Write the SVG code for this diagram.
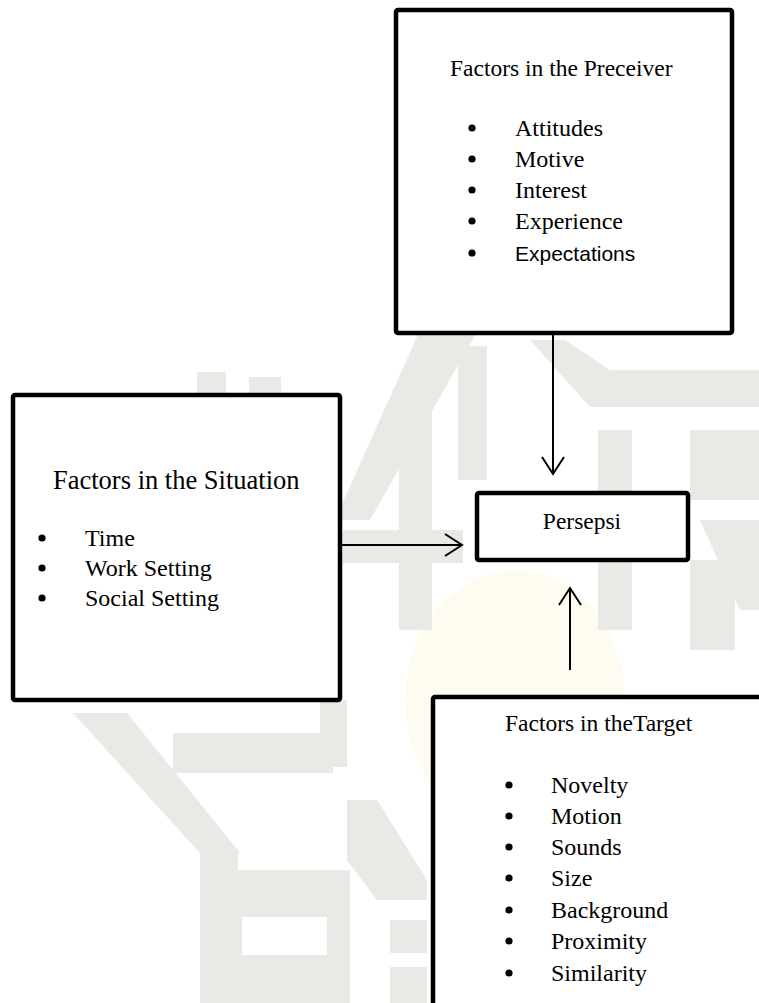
<svg xmlns="http://www.w3.org/2000/svg" width="759" height="1003" viewBox="0 0 759 1003">
<style>
.box{fill:#fff;stroke:#000;stroke-width:4.5;stroke-linejoin:round}
.t{font-family:"Liberation Serif","Times New Roman",serif;fill:#000}
.s{font-family:"Liberation Sans",Arial,sans-serif;fill:#000}
.ln{stroke:#000;stroke-width:2;fill:none}
.wm{fill:#e8eae6}
.wy{fill:#fefcf1}
</style>
<rect width="759" height="1003" fill="#fff"/>
<g id="watermark">
  <ellipse class="wy" cx="515" cy="700" rx="110" ry="130"/>
  <polygon class="wm" points="420,330 478,330 370,520 335,520"/>
  <rect class="wm" x="399" y="408" width="33" height="222"/>
  <rect class="wm" x="458" y="346" width="29" height="134"/>
  <polygon class="wm" points="343,530 463,530 463,563 343,563"/>
  <rect class="wm" x="197" y="372" width="29" height="25"/>
  <rect class="wm" x="249" y="377" width="32" height="20"/>
  <polygon class="wm" points="530,340 565,340 610,370 759,370 759,407 590,407"/>
  <rect class="wm" x="598" y="430" width="34" height="200"/>
  <rect class="wm" x="690" y="430" width="69" height="70"/>
  <polygon class="wm" points="700,520 759,520 759,610 740,610"/>
  <rect class="wm" x="690" y="560" width="45" height="90"/>
  <polygon class="wm" points="73,713 127,713 240,853 200,853"/>
  <rect class="wm" x="200" y="853" width="38" height="150"/>
  <rect class="wm" x="173" y="733" width="160" height="40"/>
  <rect class="wm" x="320" y="700" width="27" height="67"/>
  <path class="wm" fill-rule="evenodd" d="M238,870 H350 V1003 H238 Z M242,917 H327 V955 H242 Z"/>
  <polygon class="wm" points="347,800 377,800 427,880 427,900 377,900 347,860"/>
  <rect class="wm" x="390" y="920" width="37" height="33"/>
  <rect class="wm" x="390" y="967" width="37" height="36"/>
</g>
<g id="connectors">
  <line class="ln" x1="553" y1="335" x2="553" y2="474"/>
  <polyline class="ln" points="542,457 553,474 564,457"/>
  <line class="ln" x1="342" y1="545" x2="462" y2="545"/>
  <polyline class="ln" points="445,534 462,545 445,556"/>
  <line class="ln" x1="570" y1="670" x2="570" y2="588"/>
  <polyline class="ln" points="559,605 570,588 581,605"/>
</g>
<g id="preceiver">
  <rect class="box" x="396" y="10" width="336" height="323" rx="2"/>
  <text class="t" x="450" y="76" font-size="23.5">Factors in the Preceiver</text>
  <circle cx="472" cy="128" r="3.6"/>
  <circle cx="472" cy="159" r="3.6"/>
  <circle cx="472" cy="190" r="3.6"/>
  <circle cx="472" cy="221" r="3.6"/>
  <circle cx="472" cy="253" r="3.6"/>
  <text class="t" x="515" y="136" font-size="24">Attitudes</text>
  <text class="t" x="515" y="167" font-size="24">Motive</text>
  <text class="t" x="515" y="198" font-size="24">Interest</text>
  <text class="t" x="515" y="229" font-size="24">Experience</text>
  <text class="s" x="515" y="261" font-size="21">Expectations</text>
</g>
<g id="situation">
  <rect class="box" x="13" y="395" width="327" height="305" rx="2"/>
  <text class="t" x="53" y="489" font-size="26.5">Factors in the Situation</text>
  <circle cx="42" cy="538" r="3.6"/>
  <circle cx="42" cy="568" r="3.6"/>
  <circle cx="42" cy="598" r="3.6"/>
  <text class="t" x="85" y="546" font-size="24">Time</text>
  <text class="t" x="85" y="576" font-size="24">Work Setting</text>
  <text class="t" x="85" y="606" font-size="24">Social Setting</text>
</g>
<g id="persepsi">
  <rect class="box" x="477" y="493" width="211" height="67" rx="2"/>
  <text class="t" x="582" y="529" font-size="23.5" text-anchor="middle">Persepsi</text>
</g>
<g id="target">
  <rect class="box" x="433" y="697" width="400" height="400" rx="2"/>
  <text class="t" x="505" y="731" font-size="23.5">Factors in theTarget</text>
  <circle cx="509" cy="785" r="3.6"/>
  <circle cx="509" cy="816" r="3.6"/>
  <circle cx="509" cy="847" r="3.6"/>
  <circle cx="509" cy="878" r="3.6"/>
  <circle cx="509" cy="910" r="3.6"/>
  <circle cx="509" cy="941" r="3.6"/>
  <circle cx="509" cy="973" r="3.6"/>
  <text class="t" x="551" y="793" font-size="24">Novelty</text>
  <text class="t" x="551" y="824" font-size="24">Motion</text>
  <text class="t" x="551" y="855" font-size="24">Sounds</text>
  <text class="t" x="551" y="886" font-size="24">Size</text>
  <text class="t" x="551" y="918" font-size="24">Background</text>
  <text class="t" x="551" y="949" font-size="24">Proximity</text>
  <text class="t" x="551" y="981" font-size="24">Similarity</text>
</g>
</svg>
